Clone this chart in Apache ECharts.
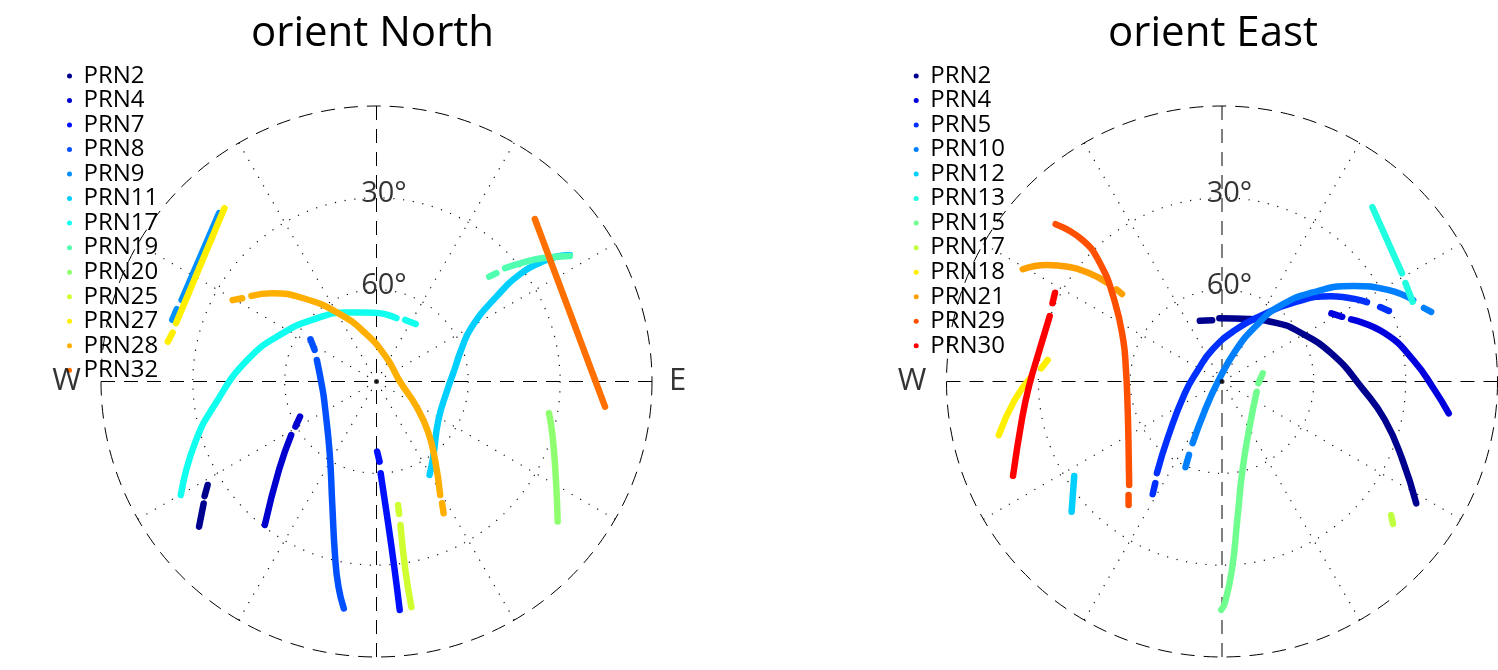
<!DOCTYPE html>
<html>
<head>
<meta charset="utf-8">
<script src="https://cdn.jsdelivr.net/npm/echarts@6/dist/echarts.min.js"></script>
<style>
  html, body { margin: 0; padding: 0; background: #ffffff; }
  #chart { width: 1498px; height: 670px; }
</style>
</head>
<body>
<div id="chart"></div>
<script>
// Satellite sky plots. Every track is a list of segments (gaps split them),
// each segment a list of [elevation in degrees, azimuth in degrees] samples.

const elevationTicks = [30, 60];
const compassLetters = ['W', 'E'];
const compassAzimuths = [270, 90];

// ---- orient North ----
const northNames = ['PRN2', 'PRN4', 'PRN7', 'PRN8', 'PRN9', 'PRN11', 'PRN17',
                    'PRN19', 'PRN20', 'PRN25', 'PRN27', 'PRN28', 'PRN32'];
const northColors = ['#00008F', '#0000CF', '#0010FF', '#0050FF', '#008FFF', '#00CFFF', '#10FFEF',
                     '#50FFAF', '#8FFF70', '#CFFF30', '#FFEF00', '#FFAF00', '#FF7000'];

const nPRN2  = [[[25.3, 238.5], [22.5, 236.3]], [[20.9, 234.8], [15.1, 230.7]]];
const nPRN4  = [[[62.5, 245.3], [59.7, 240.9]], [[57.1, 237.9], [47.0, 227.8], [30.6, 217.9]]];
const nPRN7  = [[[67.1, 179.5], [63.8, 177.8]], [[60.0, 177.4], [44.6, 175.4], [28.1, 174.5], [15.0, 174.2]]];
const nPRN8  = [[[64.4, 302.6], [67.3, 297.0]],
                [[69.3, 289.8], [72.2, 261.0], [71.6, 247.3], [62.0, 213.1], [47.7, 200.0],
                 [31.2, 193.3], [21.8, 190.5], [15.1, 188.2]]];
const nPRN9  = [[[14.7, 316.9], [21.0, 292.7]], [[20.6, 289.9], [20.3, 286.8]]];
const nPRN11 = [[[54.9, 150.4], [59.2, 143.0], [66.2, 121.8], [66.7, 96.9], [64.3, 81.6], [60.5, 69.6],
                 [54.5, 60.5], [42.0, 54.7], [31.1, 53.2], [23.3, 54.1], [18.6, 55.2], [14.5, 56.8]]];
const nPRN17 = [[[16.1, 239.9], [27.3, 251.2], [37.0, 262.3], [47.2, 279.4], [55.5, 297.1],
                 [61.7, 317.0], [65.3, 335.7], [67.5, 357.6], [68.3, 17.5]],
                [[67.8, 25.0], [67.3, 34.3]]];
const nPRN19 = [[[39.7, 47.1], [37.2, 47.9]], [[34.0, 48.6], [29.0, 50.7], [22.6, 53.3], [14.7, 57.0]]];
const nPRN20 = [[[32.7, 100.4], [29.7, 107.4], [23.1, 118.8], [15.2, 127.7]]];
const nPRN25 = [[[49.0, 170.1], [46.1, 170.3]], [[42.5, 170.5], [27.7, 171.3], [15.4, 171.2]]];
const nPRN27 = [[[14.7, 318.7], [21.8, 286.2]], [[21.5, 283.5], [20.6, 280.8]]];
const nPRN28 = [[[36.0, 299.5], [38.4, 301.8]],
                [[40.5, 304.4], [45.3, 310.1], [53.8, 318.7], [64.5, 330.9], [73.7, 346.7], [81.4, 21.2],
                 [82.3, 90.5], [74.8, 121.8], [66.4, 134.4], [57.4, 143.8], [47.5, 150.7]],
                [[44.8, 151.7], [41.7, 153.0]]];
const nPRN32 = [[[15.9, 44.3], [14.9, 96.3]]];

const northTracks = [nPRN2, nPRN4, nPRN7, nPRN8, nPRN9, nPRN11, nPRN17,
                     nPRN19, nPRN20, nPRN25, nPRN27, nPRN28, nPRN32];

// ---- orient East ----
const eastNames = ['PRN2', 'PRN4', 'PRN5', 'PRN10', 'PRN12', 'PRN13',
                   'PRN15', 'PRN17', 'PRN18', 'PRN21', 'PRN29', 'PRN30'];
const eastColors = ['#00008F', '#0000DF', '#0030FF', '#0080FF', '#00CFFF', '#20FFDF',
                    '#70FF8F', '#BFFF40', '#FFEF00', '#FF9F00', '#FF5000', '#FF0000'];

const ePRN2  = [[[68.9, 339.9], [69.7, 350.9]],
                [[69.3, 357.6], [67.7, 23.8], [63.6, 44.0], [60.6, 55.1], [53.1, 75.6],
                 [43.7, 93.4], [35.3, 103.3], [25.7, 113.5], [15.1, 122.1]]];
const ePRN4  = [[[47.9, 58.1], [45.4, 61.7]], [[43.2, 64.3], [34.5, 73.5], [27.1, 83.6], [20.5, 92.3], [15.2, 98.0]]];
const ePRN5  = [[[46.8, 211.6], [50.3, 213.3]],
                [[53.3, 215.4], [64.7, 224.2], [77.3, 252.7], [81.3, 295.6], [79.2, 342.4], [72.7, 14.2],
                 [65.3, 30.1], [54.5, 42.9], [44.8, 51.9], [36.0, 61.3]],
                [[32.9, 64.8], [30.8, 67.1]]];
const ePRN10 = [[[59.6, 203.1], [63.7, 204.2]],
                [[67.7, 205.5], [79.2, 210.8], [88.7, 270.0], [78.7, 24.0], [69.2, 31.2], [59.6, 36.9],
                 [48.1, 45.8], [37.0, 53.9], [28.1, 61.1], [22.1, 66.9]],
                [[19.8, 70.0], [18.0, 71.6]]];
const ePRN12 = [[[32.7, 237.4], [25.0, 229.1]]];
const ePRN13 = [[[14.8, 40.8], [21.4, 59.0]], [[22.0, 61.8], [22.5, 67.3]]];
const ePRN15 = [[[76.4, 78.6], [78.1, 92.8]],
                [[78.2, 106.4], [72.7, 148.6], [60.3, 167.0], [44.5, 173.7], [28.3, 177.0], [17.5, 179.3], [15.4, 180.2]]];
const ePRN17 = [[[19.6, 128.3], [17.3, 129.8]]];
const ePRN18 = [[[32.6, 277.0], [30.8, 274.2]], [[27.6, 271.3], [22.0, 264.9], [15.0, 256.5]]];
const ePRN21 = [[[15.3, 299.4], [21.3, 303.6], [27.3, 306.7], [34.1, 309.2], [40.5, 310.7]],
                [[44.2, 311.1], [46.6, 311.2]]];
const ePRN29 = [[[15.2, 313.4], [25.1, 315.4], [34.5, 314.1], [45.9, 307.1], [55.0, 292.8],
                 [58.4, 276.8], [58.5, 258.9], [54.0, 238.1], [44.6, 221.9]],
                [[42.0, 219.5], [39.4, 217.1]]];
const ePRN30 = [[[28.2, 298.0], [29.0, 294.8]],
                [[29.8, 290.8], [29.5, 279.8], [26.9, 268.5], [23.4, 259.1], [15.1, 245.7]]];

const eastTracks = [ePRN2, ePRN4, ePRN5, ePRN10, ePRN12, ePRN13,
                    ePRN15, ePRN17, ePRN18, ePRN21, ePRN29, ePRN30];

// ---- layout ----
const PLOT_RADIUS = 275.5;
const centers = [[376.5, 381.5], [1222, 381.5]];
const FONT = '"Open Sans", "Noto Sans", sans-serif';
const DOT = [1.2, 8.6];
const DASH = [14, 9];
const CLEAR = 'rgba(0,0,0,0)';

const polar = [];
const angleAxis = [];
const radiusAxis = [];
centers.forEach(function (c) {
  // dotted grid (30° spokes, 30°/60° elevation rings)
  polar.push({ center: c, radius: PLOT_RADIUS });
  angleAxis.push({
    polarIndex: polar.length - 1, type: 'value', min: 0, max: 360, interval: 30,
    startAngle: 90, clockwise: true,
    axisLine: { show: false }, axisTick: { show: false }, axisLabel: { show: false },
    splitLine: { show: true, lineStyle: { color: [CLEAR, '#111', '#111'], width: 1.2, type: DOT } }
  });
  radiusAxis.push({
    polarIndex: polar.length - 1, type: 'value', min: 0, max: 90, interval: 30, inverse: true,
    axisLine: { show: false }, axisTick: { show: false }, axisLabel: { show: false },
    splitLine: { show: true, lineStyle: { color: [CLEAR, '#111', '#111', CLEAR], width: 1.2, type: DOT } }
  });
  // dashed horizon circle and N/E/S/W cross
  polar.push({ center: c, radius: PLOT_RADIUS });
  angleAxis.push({
    polarIndex: polar.length - 1, type: 'value', min: 0, max: 360, interval: 90,
    startAngle: 90, clockwise: true,
    axisLine: { show: true, lineStyle: { color: '#000', width: 1, type: DASH } },
    axisTick: { show: false }, axisLabel: { show: false },
    splitLine: { show: true, lineStyle: { color: '#000', width: 1, type: DASH } }
  });
  radiusAxis.push({
    polarIndex: polar.length - 1, type: 'value', min: 0, max: 90, inverse: true,
    axisLine: { show: false }, axisTick: { show: false }, axisLabel: { show: false },
    splitLine: { show: false }
  });
});

const series = [];

function addTracks(prefix, names, colors, tracks, polarIndex) {
  tracks.forEach(function (track, i) {
    track.forEach(function (segment) {
      series.push({
        type: 'line', name: prefix + names[i], coordinateSystem: 'polar', polarIndex: polarIndex,
        data: segment, showSymbol: false, smooth: 0.5, silent: true, clip: false, z: 3,
        itemStyle: { color: colors[i] },
        lineStyle: { color: colors[i], width: 6.5, cap: 'round', join: 'round' }
      });
    });
  });
}

function addDecorations(polarIndex) {
  // zenith dot
  series.push({
    type: 'scatter', coordinateSystem: 'polar', polarIndex: polarIndex, silent: true, z: 4,
    data: [[90, 0]], symbolSize: 5, itemStyle: { color: '#000' }
  });
  // elevation ring labels
  series.push({
    type: 'scatter', coordinateSystem: 'polar', polarIndex: polarIndex, silent: true, clip: false, z: 5,
    data: elevationTicks.map(function (e) { return [e, 0]; }),
    symbolSize: 1, itemStyle: { color: CLEAR },
    label: {
      show: true, position: 'inside', offset: [7.5, -4],
      formatter: function (p) { return p.value[0] + '°'; },
      fontFamily: FONT, fontSize: 29, color: '#000'
    }
  });
  // compass letters on the horizon
  series.push({
    type: 'scatter', coordinateSystem: 'polar', polarIndex: polarIndex, silent: true, clip: false, z: 5,
    symbolSize: 1, itemStyle: { color: CLEAR },
    data: compassLetters.map(function (t, k) {
      return {
        value: [0, compassAzimuths[k]],
        label: { formatter: t, offset: [compassAzimuths[k] === 270 ? -34.5 : 25.5, 0] }
      };
    }),
    label: { show: true, position: 'inside', fontFamily: FONT, fontSize: 31, color: '#000' }
  });
}

addTracks('N:', northNames, northColors, northTracks, 0);
addTracks('E:', eastNames, eastColors, eastTracks, 2);
addDecorations(0);
addDecorations(2);

function legendFor(prefix, names, left) {
  return {
    data: names.map(function (n) { return prefix + n; }),
    formatter: function (n) { return n.slice(prefix.length); },
    orient: 'vertical', left: left, top: 64, padding: 0, itemGap: 0.52,
    itemWidth: 18, itemHeight: 5, icon: 'circle', selectedMode: false,
    textStyle: { fontFamily: FONT, fontSize: 24, lineHeight: 23, color: '#000' }
  };
}

const chart = echarts.init(document.getElementById('chart'), null, { renderer: 'canvas' });
chart.setOption({
  animation: false,
  backgroundColor: '#ffffff',
  polar: polar,
  angleAxis: angleAxis,
  radiusAxis: radiusAxis,
  legend: [legendFor('N:', northNames, 67), legendFor('E:', eastNames, 913.7)],
  graphic: [
    { type: 'text', x: 372.5, y: 34, style: { text: 'orient North', font: '42px ' + FONT, fill: '#000', align: 'center', verticalAlign: 'middle' } },
    { type: 'text', x: 1213, y: 34, style: { text: 'orient East', font: '42px ' + FONT, fill: '#000', align: 'center', verticalAlign: 'middle' } }
  ],
  series: series
});
</script>
</body>
</html>
